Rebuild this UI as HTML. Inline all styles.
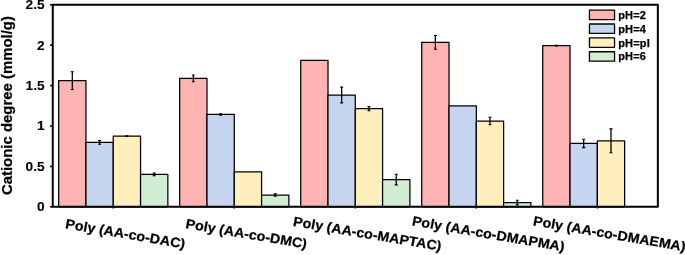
<!DOCTYPE html><html><head><meta charset="utf-8"><title>chart</title><style>html,body{margin:0;padding:0;background:#fff}body{width:685px;height:255px;overflow:hidden}</style></head><body><svg width="685" height="255" viewBox="0 0 685 255" style="display:block" font-family="'Liberation Sans', sans-serif" font-weight="bold" stroke="#000" stroke-width="0.25" stroke-linejoin="round">
<rect width="685" height="255" fill="#fff" stroke="none"/>
<rect x="58.66" y="80.60" width="27.30" height="126.25" fill="#FFB3B3" stroke="#000" stroke-width="1.25"/>
<rect x="85.96" y="142.40" width="27.30" height="64.45" fill="#C6D5EF" stroke="#000" stroke-width="1.25"/>
<rect x="113.26" y="136.20" width="27.30" height="70.65" fill="#FFEFBD" stroke="#000" stroke-width="1.25"/>
<rect x="140.56" y="174.40" width="27.30" height="32.45" fill="#D1EED4" stroke="#000" stroke-width="1.25"/>
<rect x="179.68" y="78.40" width="27.30" height="128.45" fill="#FFB3B3" stroke="#000" stroke-width="1.25"/>
<rect x="206.98" y="114.40" width="27.30" height="92.45" fill="#C6D5EF" stroke="#000" stroke-width="1.25"/>
<rect x="234.28" y="171.80" width="27.30" height="35.05" fill="#FFEFBD" stroke="#000" stroke-width="1.25"/>
<rect x="261.58" y="195.00" width="27.30" height="11.85" fill="#D1EED4" stroke="#000" stroke-width="1.25"/>
<rect x="300.70" y="60.40" width="27.30" height="146.45" fill="#FFB3B3" stroke="#000" stroke-width="1.25"/>
<rect x="328.00" y="95.00" width="27.30" height="111.85" fill="#C6D5EF" stroke="#000" stroke-width="1.25"/>
<rect x="355.30" y="108.60" width="27.30" height="98.25" fill="#FFEFBD" stroke="#000" stroke-width="1.25"/>
<rect x="382.60" y="179.60" width="27.30" height="27.25" fill="#D1EED4" stroke="#000" stroke-width="1.25"/>
<rect x="421.72" y="42.40" width="27.30" height="164.45" fill="#FFB3B3" stroke="#000" stroke-width="1.25"/>
<rect x="449.02" y="105.80" width="27.30" height="101.05" fill="#C6D5EF" stroke="#000" stroke-width="1.25"/>
<rect x="476.32" y="121.00" width="27.30" height="85.85" fill="#FFEFBD" stroke="#000" stroke-width="1.25"/>
<rect x="503.62" y="202.60" width="27.30" height="4.25" fill="#D1EED4" stroke="#000" stroke-width="1.25"/>
<rect x="542.74" y="45.60" width="27.30" height="161.25" fill="#FFB3B3" stroke="#000" stroke-width="1.25"/>
<rect x="570.04" y="143.40" width="27.30" height="63.45" fill="#C6D5EF" stroke="#000" stroke-width="1.25"/>
<rect x="597.34" y="140.80" width="27.30" height="66.05" fill="#FFEFBD" stroke="#000" stroke-width="1.25"/>
<path d="M72.31 71.60V89.60" stroke="#000" stroke-width="1.3" fill="none"/><path d="M70.81 71.70h3M70.81 89.50h3" stroke="#000" stroke-width="1.1" fill="none"/>
<path d="M99.61 140.40V144.40" stroke="#000" stroke-width="1.3" fill="none"/><path d="M98.11 140.50h3M98.11 144.30h3" stroke="#000" stroke-width="1.1" fill="none"/>
<path d="M126.91 135.80V136.60" stroke="#000" stroke-width="1.3" fill="none"/><path d="M125.41 135.90h3M125.41 136.50h3" stroke="#000" stroke-width="1.1" fill="none"/>
<path d="M154.21 172.90V175.90" stroke="#000" stroke-width="1.3" fill="none"/><path d="M152.71 173.00h3M152.71 175.80h3" stroke="#000" stroke-width="1.1" fill="none"/>
<path d="M193.33 74.90V81.90" stroke="#000" stroke-width="1.3" fill="none"/><path d="M191.83 75.00h3M191.83 81.80h3" stroke="#000" stroke-width="1.1" fill="none"/>
<path d="M220.63 113.60V115.20" stroke="#000" stroke-width="1.3" fill="none"/><path d="M219.13 113.70h3M219.13 115.10h3" stroke="#000" stroke-width="1.1" fill="none"/>
<path d="M275.23 193.80V196.20" stroke="#000" stroke-width="1.3" fill="none"/><path d="M273.73 193.90h3M273.73 196.10h3" stroke="#000" stroke-width="1.1" fill="none"/>
<path d="M341.65 87.00V103.00" stroke="#000" stroke-width="1.3" fill="none"/><path d="M340.15 87.10h3M340.15 102.90h3" stroke="#000" stroke-width="1.1" fill="none"/>
<path d="M368.95 106.40V110.80" stroke="#000" stroke-width="1.3" fill="none"/><path d="M367.45 106.50h3M367.45 110.70h3" stroke="#000" stroke-width="1.1" fill="none"/>
<path d="M396.25 174.20V185.00" stroke="#000" stroke-width="1.3" fill="none"/><path d="M394.75 174.30h3M394.75 184.90h3" stroke="#000" stroke-width="1.1" fill="none"/>
<path d="M435.37 35.40V49.40" stroke="#000" stroke-width="1.3" fill="none"/><path d="M433.87 35.50h3M433.87 49.30h3" stroke="#000" stroke-width="1.1" fill="none"/>
<path d="M489.97 117.10V124.90" stroke="#000" stroke-width="1.3" fill="none"/><path d="M488.47 117.20h3M488.47 124.80h3" stroke="#000" stroke-width="1.1" fill="none"/>
<path d="M517.27 200.20V205.00" stroke="#000" stroke-width="1.3" fill="none"/><path d="M515.77 200.30h3M515.77 204.90h3" stroke="#000" stroke-width="1.1" fill="none"/>
<path d="M556.39 45.10V46.10" stroke="#000" stroke-width="1.3" fill="none"/><path d="M554.89 45.20h3M554.89 46.00h3" stroke="#000" stroke-width="1.1" fill="none"/>
<path d="M583.69 139.10V147.70" stroke="#000" stroke-width="1.3" fill="none"/><path d="M582.19 139.20h3M582.19 147.60h3" stroke="#000" stroke-width="1.1" fill="none"/>
<path d="M610.99 128.80V152.80" stroke="#000" stroke-width="1.3" fill="none"/><path d="M609.49 128.90h3M609.49 152.70h3" stroke="#000" stroke-width="1.1" fill="none"/>
<rect x="52.75" y="4.75" width="605.10" height="202.10" fill="none" stroke="#000" stroke-width="2"/>
<path d="M50.05 206.85H52.75" stroke="#000" stroke-width="1.6"/>
<text transform="translate(44.6 211.30) scale(1.01 1)" stroke-width="0.1" font-size="13.6" text-anchor="end">0</text>
<path d="M50.05 166.43H52.75" stroke="#000" stroke-width="1.6"/>
<text transform="translate(44.6 170.88) scale(1.01 1)" stroke-width="0.1" font-size="13.6" text-anchor="end">0.5</text>
<path d="M50.05 126.01H52.75" stroke="#000" stroke-width="1.6"/>
<text transform="translate(44.6 130.46) scale(1.01 1)" stroke-width="0.1" font-size="13.6" text-anchor="end">1</text>
<path d="M50.05 85.59H52.75" stroke="#000" stroke-width="1.6"/>
<text transform="translate(44.6 90.04) scale(1.01 1)" stroke-width="0.1" font-size="13.6" text-anchor="end">1.5</text>
<path d="M50.05 45.17H52.75" stroke="#000" stroke-width="1.6"/>
<text transform="translate(44.6 49.62) scale(1.01 1)" stroke-width="0.1" font-size="13.6" text-anchor="end">2</text>
<path d="M50.05 4.75H52.75" stroke="#000" stroke-width="1.6"/>
<text transform="translate(44.6 9.20) scale(1.01 1)" stroke-width="0.1" font-size="13.6" text-anchor="end">2.5</text>
<path d="M113.26 206.85V208.85" stroke="#000" stroke-width="1.3" stroke-opacity="0.8"/>
<path d="M234.28 206.85V208.85" stroke="#000" stroke-width="1.3" stroke-opacity="0.8"/>
<path d="M355.30 206.85V208.85" stroke="#000" stroke-width="1.3" stroke-opacity="0.8"/>
<path d="M476.32 206.85V208.85" stroke="#000" stroke-width="1.3" stroke-opacity="0.8"/>
<path d="M597.34 206.85V208.85" stroke="#000" stroke-width="1.3" stroke-opacity="0.8"/>
<text transform="translate(11.7 105.6) rotate(-90)" font-size="14.92" text-anchor="middle">Cationic degree (mmol/g)</text>
<text transform="translate(124.51 238.25) scale(1.055 1) rotate(10.2)" font-size="13.55" text-anchor="middle">Poly (AA-co-DAC)</text>
<text transform="translate(245.53 238.25) scale(1.055 1) rotate(10.2)" font-size="13.55" text-anchor="middle">Poly (AA-co-DMC)</text>
<text transform="translate(366.55 238.25) scale(1.055 1) rotate(10.2)" font-size="13.55" text-anchor="middle">Poly (AA-co-MAPTAC)</text>
<text transform="translate(487.57 238.25) scale(1.055 1) rotate(10.2)" font-size="13.55" text-anchor="middle">Poly (AA-co-DMAPMA)</text>
<text transform="translate(608.59 238.25) scale(1.055 1) rotate(10.2)" font-size="13.55" text-anchor="middle">Poly (AA-co-DMAEMA)</text>
<rect x="589.45" y="10.15" width="25.1" height="9.4" fill="#FFB3B3" stroke="#000" stroke-width="1.3"/>
<text x="618.2" y="19.10" font-size="11" letter-spacing="0.18">pH=2</text>
<rect x="589.45" y="24.02" width="25.1" height="9.4" fill="#C6D5EF" stroke="#000" stroke-width="1.3"/>
<text x="618.2" y="32.88" font-size="11" letter-spacing="0.18">pH=4</text>
<rect x="589.45" y="37.89" width="25.1" height="9.4" fill="#FFEFBD" stroke="#000" stroke-width="1.3"/>
<text x="618.2" y="46.66" font-size="11" letter-spacing="0.18">pH=pI</text>
<rect x="589.45" y="51.76" width="25.1" height="9.4" fill="#D1EED4" stroke="#000" stroke-width="1.3"/>
<text x="618.2" y="60.44" font-size="11" letter-spacing="0.18">pH=6</text>
</svg></body></html>
